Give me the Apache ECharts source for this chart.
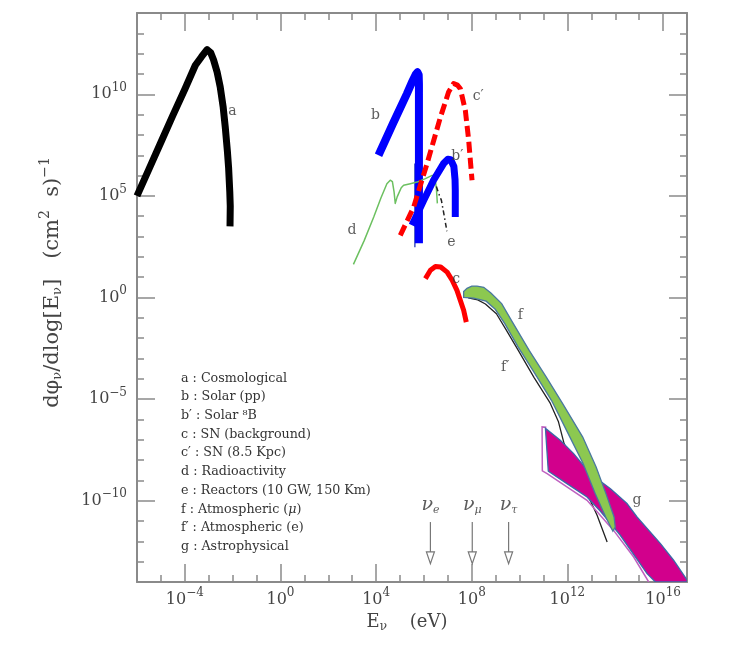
<!DOCTYPE html>
<html>
<head>
<meta charset="utf-8">
<script src="https://cdn.jsdelivr.net/npm/echarts@6/dist/echarts.min.js"></script>
<style>html,body{margin:0;padding:0;background:#fff}#c{width:735px;height:646px}</style>
</head>
<body>
<div id="c"></div>
<script>
// All values are [log10(E / eV), log10(flux)]
const xMajorTicks = [-4, 0, 4, 8, 12, 16];
const yMajorTicks = [-10, -5, 0, 5, 10];
const cosmological = [[-6.0,5.0],[-5.5,6.32],[-5.0,7.64],[-4.5,8.96],[-4.0,10.25],[-3.56,11.43],[-3.3,11.85],[-3.07,12.2],[-2.92,12.05],[-2.80,11.7],[-2.65,11.1],[-2.52,10.36],[-2.40,9.4],[-2.31,8.4],[-2.22,7.2],[-2.17,6.4],[-2.12,5.2],[-2.10,4.5],[-2.11,3.5]];
const solarPP = [[4.10,7.0],[4.7,8.55],[5.29,10.03],[5.5,10.6],[5.66,10.98],[5.73,11.08],[5.78,10.95],[5.79,10.5],[5.79,2.67]];
const solarLine = [[5.62,6.6],[5.62,2.47]];
const solarB8 = [[5.50,3.55],[5.99,4.78],[6.40,5.77],[6.82,6.59],[7.00,6.80],[7.12,6.78],[7.25,6.45],[7.30,5.8],[7.31,5.27],[7.31,3.96]];
const snBurst = [[5.01,3.06],[5.57,4.45],[6.13,6.59],[6.69,8.88],[7.03,10.11],[7.24,10.53],[7.40,10.45],[7.52,10.28],[7.73,9.21],[7.87,7.74],[8.01,5.77]];
const snBackground = [[6.06,0.93],[6.27,1.34],[6.48,1.53],[6.70,1.5],[6.97,1.25],[7.18,0.85],[7.38,0.35],[7.66,-0.63],[7.77,-1.21]];
const radioactivity = [[3.05,1.63],[3.50,2.80],[3.90,3.96],[4.20,4.9],[4.45,5.6],[4.59,5.77],[4.68,5.70],[4.75,5.2],[4.80,4.63],[4.88,4.95],[4.94,5.11],[5.05,5.40],[5.15,5.52],[5.43,5.60],[5.71,5.68],[6.06,5.85],[6.34,6.01],[6.45,5.95],[6.52,5.37],[6.56,4.63]];
const reactors = [[6.52,5.46],[6.62,5.1],[6.73,4.78],[6.85,4.0],[6.96,3.26]];
const atmMuUpper = [[7.66,0.30],[7.80,0.45],[8.0,0.56],[8.22,0.56],[8.50,0.50],[8.80,0.22],[9.25,-0.30],[9.70,-1.21],[10.40,-2.60],[11.11,-3.91],[11.80,-5.22],[12.64,-6.87],[13.20,-8.34],[13.61,-9.65],[13.95,-10.80],[14.00,-11.30]];
const atmMuLower = [[13.90,-11.50],[13.60,-10.80],[13.16,-9.65],[12.66,-8.18],[12.03,-6.70],[11.33,-5.06],[10.64,-3.75],[9.94,-2.44],[9.38,-1.29],[8.98,-0.58],[8.60,-0.18],[8.08,-0.03],[7.66,0.0]];
const atmE = [[7.85,-0.02],[8.25,-0.12],[8.57,-0.32],[9.03,-0.80],[9.42,-1.56],[9.92,-2.55],[10.60,-3.93],[11.28,-5.2],[11.62,-6.1],[11.86,-7.19],[13.24,-10.72],[13.66,-12.03]];
const astroBand = [[11.08,-6.44],[11.70,-7.03],[12.26,-7.68],[12.96,-8.67],[13.80,-9.41],[14.49,-10.14],[14.91,-10.80],[15.89,-12.11],[16.44,-12.93],[17.0,-13.9],[17.0,-14.0],[15.68,-14.0],[15.33,-13.59],[14.21,-11.70],[13.38,-10.52],[12.82,-9.82],[11.98,-9.16],[11.20,-8.55]];
const astroOutline = [[11.12,-6.39],[10.94,-6.37],[10.95,-8.53],[11.15,-8.67],[12.82,-9.98],[13.93,-11.46],[14.77,-12.77],[15.40,-14.0]];
const nuArrowEnergies = [6.27, 8.02, 9.54];
const nuFlavours = ['e', 'μ', 'τ'];
const arrowShaftTop = -11.05, arrowHeadTop = -12.52, arrowTip = -13.10, nuLabelY = -10.23;
const curveLabels = [['a',-2.01,9.16],['b',3.97,8.97],['b′',7.40,6.95],['c′',8.27,9.90],['d',2.99,3.31],['e',7.15,2.72],['c',7.35,0.89],['f',10.03,-0.88],['f′',9.40,-3.42],['g',14.91,-9.98]];
const legendLines = ['a : Cosmological','b : Solar (pp)','b′ : Solar ⁸B','c : SN (background)','c′ : SN (8.5 Kpc)','d : Radioactivity','e : Reactors (10 GW, 150 Km)','f : Atmospheric ({m|μ})','f′ : Atmospheric (e)','g : Astrophysical'];

const SERIF = 'DejaVu Serif';
const axisGray = '#8a8a8a';
const txt = '#444';
const pow = v => '{b|10}{s|' + String(v).replace('-', '−') + '}';
const tickRich = { b: { fontFamily: SERIF, fontSize: 16, color: txt }, s: { fontFamily: SERIF, fontSize: 12, color: txt, padding: [0,0,13,0] } };

function xAx(pos, major, labels) {
  const a = { type: 'value', position: pos, min: -6, max: 17, gridIndex: 0,
    splitLine: { show: false },
    axisLine: { show: !major, onZero: false, lineStyle: { color: axisGray, width: 2 } },
    axisTick: { show: true, inside: true, length: major ? 18 : 7, lineStyle: { color: axisGray, width: 1.5 } },
    axisLabel: { show: false } };
  if (major) a.axisTick.customValues = xMajorTicks; else a.interval = 1;
  if (labels) {
    a.axisLabel = { show: true, customValues: xMajorTicks, formatter: pow, rich: tickRich, margin: 5 };
    a.name = '{t|E}{u|ν}{e|    (eV)}';
    a.nameLocation = 'middle'; a.nameGap = 30;
    a.nameTextStyle = { rich: { t: { fontFamily: SERIF, fontSize: 18, color: txt },
      e: { fontFamily: SERIF, fontSize: 18, color: txt, padding: [0,10,0,0] },
      u: { fontFamily: SERIF, fontSize: 12, color: txt, padding: [9,0,0,0] } } };
  }
  return a;
}
function yAx(pos, major, labels) {
  const a = { type: 'value', position: pos, min: -14, max: 14, gridIndex: 0,
    splitLine: { show: false },
    axisLine: { show: !major, onZero: false, lineStyle: { color: axisGray, width: 2 } },
    axisTick: { show: true, inside: true, length: major ? 18 : 7, lineStyle: { color: axisGray, width: 1.5 } },
    axisLabel: { show: false } };
  if (major) a.axisTick.customValues = yMajorTicks; else a.interval = 1;
  if (labels) {
    a.axisLabel = { show: true, customValues: yMajorTicks, formatter: pow, rich: tickRich, margin: 10 };
    a.name = '{st|dφ}{u|ν}{t|/dlog[E}{u|ν}{t|]   (cm}{p|2}{t|  s)}{p|−1}';
    a.nameLocation = 'middle'; a.nameGap = 70; a.nameRotate = 90;
    a.nameTextStyle = { rich: {
      st: { fontFamily: SERIF, fontSize: 21, color: txt, padding: [0,0,0,30] },
      t: { fontFamily: SERIF, fontSize: 21, color: txt },
      u: { fontFamily: SERIF, fontSize: 13, color: txt, padding: [10,0,0,0] },
      p: { fontFamily: SERIF, fontSize: 14, color: txt, padding: [0,0,15,0] } } };
  }
  return a;
}

function lineSeries(data, color, width, type, z) {
  return { type: 'line', data, xAxisIndex: 0, yAxisIndex: 0, showSymbol: false, symbol: 'none', z: z || 5,
    lineStyle: { color, width, type: type || 'solid', cap: 'butt', join: 'round' }, silent: true, animation: false };
}
function polySeries(data, fill, stroke, z, closed) {
  return { type: 'custom', data, xAxisIndex: 0, yAxisIndex: 0, z, clip: true, silent: true, animation: false,
    renderItem: (params, api) => {
      if (params.dataIndex !== 0) return;
      const pts = data.map(p => api.coord(p));
      return closed ? { type: 'polygon', shape: { points: pts }, style: { fill, stroke, lineWidth: 1.3 } }
                    : { type: 'polyline', shape: { points: pts }, style: { fill: null, stroke, lineWidth: 1.5 } };
    } };
}

const chart = echarts.init(document.getElementById('c'), null, { renderer: 'canvas' });
chart.setOption({
  animation: false,
  backgroundColor: '#fff',
  grid: { left: 137, top: 13, width: 550, height: 569 },
  xAxis: [xAx('bottom', false, true), xAx('bottom', true, false), xAx('top', false, false), xAx('top', true, false)],
  yAxis: [yAx('left', false, true), yAx('left', true, false), yAx('right', false, false), yAx('right', true, false)],
  graphic: [{ type: 'text', left: 181, top: 369, silent: true,
    style: { text: legendLines.join('\n'), fontFamily: SERIF, fontSize: 12.7, lineHeight: 18.7, fill: '#333',
      rich: { m: { fontFamily: SERIF, fontSize: 12.7, fontStyle: 'italic', fill: '#333' } } } }],
  series: [
    lineSeries(atmE, '#222', 1.3, 'solid', 2),
    polySeries(astroOutline, null, '#c060c0', 3, false),
    polySeries(astroBand, '#d2008c', '#3a6aa8', 3, true),
    polySeries(atmMuUpper.concat(atmMuLower), '#8cc850', '#4a78a0', 4, true),
    lineSeries(cosmological, '#000', 7),
    lineSeries(solarLine, '#4050c0', 1.5),
    lineSeries(solarPP, '#0000ff', 8),
    lineSeries(radioactivity, '#6cc060', 1.5),
    lineSeries(snBurst, '#ff0000', 5, [11, 5]),
    lineSeries(solarB8, '#0000ff', 7),
    lineSeries(reactors, '#222', 1.5, [5, 3, 1.5, 3]),
    lineSeries(snBackground, '#ff0000', 5),
    { type: 'custom', data: nuArrowEnergies.map(e => [e, arrowShaftTop]), xAxisIndex: 0, yAxisIndex: 0, z: 6, silent: true,
      renderItem: (params, api) => {
        const e = api.value(0);
        const t = api.coord([e, arrowShaftTop]), h = api.coord([e, arrowHeadTop]), p = api.coord([e, arrowTip]);
        return { type: 'group', children: [
          { type: 'line', shape: { x1: t[0], y1: t[1], x2: h[0], y2: h[1] }, style: { stroke: '#777', lineWidth: 1.2 } },
          { type: 'polygon', shape: { points: [[h[0]-4, h[1]], [h[0]+4, h[1]], [p[0], p[1]]] }, style: { fill: '#fff', stroke: '#777', lineWidth: 1.2 } }
        ] };
      } },
    { type: 'scatter', data: nuArrowEnergies.map((e, i) => ({ value: [e, nuLabelY], name: nuFlavours[i] })), symbolSize: 0, z: 7, silent: true,
      label: { show: true, position: 'inside', formatter: p => '{n|ν}{s|' + p.name + '}',
        rich: { n: { fontFamily: SERIF, fontSize: 19, fontStyle: 'italic', color: '#333' }, s: { fontFamily: SERIF, fontSize: 11, fontStyle: 'italic', color: '#333', padding: [10,0,0,0] } } } },
    { type: 'scatter', data: curveLabels.map(l => ({ value: [l[1], l[2]], name: l[0] })), symbolSize: 0, z: 7, silent: true,
      label: { show: true, position: 'inside', formatter: p => p.name, fontFamily: SERIF, fontSize: 14, color: '#333' } }
  ]
});
</script>
</body>
</html>
